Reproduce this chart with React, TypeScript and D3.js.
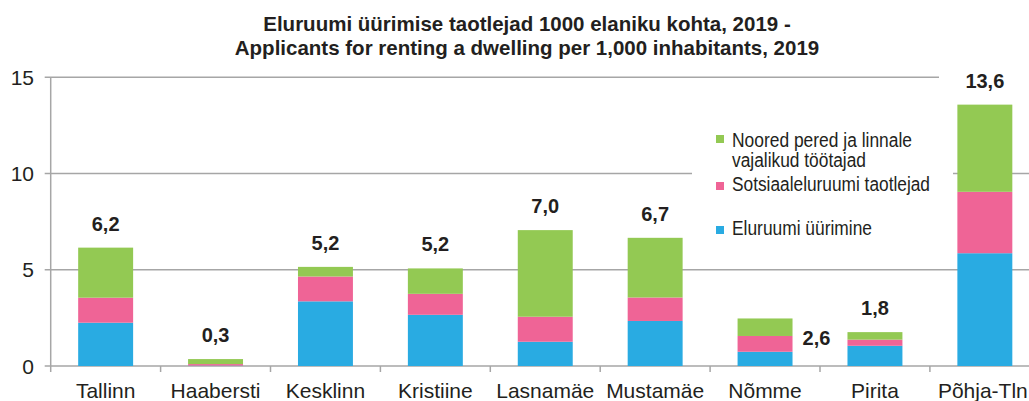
import React from "react";
import * as d3 from "d3";

const categories = ["Tallinn", "Haabersti", "Kesklinn", "Kristiine", "Lasnamäe", "Mustamäe", "Nõmme", "Pirita", "Põhja-Tln"];
const rentValues = [2.25, 0.02, 3.36, 2.66, 1.26, 2.34, 0.74, 1.05, 5.86];
const socialValues = [1.3, 0.08, 1.29, 1.09, 1.3, 1.22, 0.82, 0.32, 3.19];
const youngValues = [2.6, 0.26, 0.5, 1.32, 4.5, 3.1, 0.91, 0.39, 4.53];
const totalLabels = ["6,2", "0,3", "5,2", "5,2", "7,0", "6,7", "2,6", "1,8", "13,6"];
const yTicks = [0, 5, 10, 15];
const seriesNames = ["Eluruumi üürimine", "Sotsiaaleluruumi taotlejad", "Noored pered ja linnale vajalikud töötajad"];
const legendGreenLines = ["Noored pered ja linnale", "vajalikud töötajad"];
const titleLines = [
  "Eluruumi üürimise taotlejad 1000 elaniku kohta, 2019 -",
  "Applicants for renting a dwelling per 1,000 inhabitants, 2019",
];

const W = 1029;
const H = 401;
const COLORS = ["#29abe2", "#ef6496", "#93c953"];
const GRID = "#a6a6a6";
const FONT = "'Liberation Sans', Arial, sans-serif";

export default function App() {
  const x = d3.scaleBand<string>().domain(categories).range([50.7, 1039.8]).padding(0);
  const y = d3.scaleLinear().domain([0, 15]).range([366, 77.3]);
  const bw = x.bandwidth() * 0.5;

  const rows = categories.map((c, i) => ({ cat: c, rent: rentValues[i], social: socialValues[i], young: youngValues[i] }));
  const stack = d3.stack<any>().keys(["rent", "social", "young"])(rows);

  const x0 = 50.7;

  return (
    <svg width={W} height={H} style={{ position: "absolute", left: 0, top: 0, background: "#fff" }} fontFamily={FONT}>
      <rect x={0} y={0} width={W} height={H} fill="#fff" />
      {/* title */}
      {titleLines.map((t, i) => (
        <text key={i} x={527} y={31 + i * 24} textAnchor="middle" fontWeight="bold" fontSize={20.5} fill="#231f20">
          {t}
        </text>
      ))}
      {/* gridlines */}
      {yTicks.map((t) => (
        <line key={t} x1={x0 - 6} x2={W} y1={y(t)} y2={y(t)} stroke={GRID} strokeWidth={1.5} />
      ))}
      {/* y axis */}
      <line x1={x0} x2={x0} y1={y(15)} y2={y(0) + 6} stroke={GRID} strokeWidth={1.5} />
      {categories.map((c) => (
        <line key={c} x1={(x(c) as number) + x.bandwidth()} x2={(x(c) as number) + x.bandwidth()} y1={y(0)} y2={y(0) + 6} stroke={GRID} strokeWidth={1.5} />
      ))}
      {yTicks.map((t) => (
        <text key={t} x={34} y={y(t)} dy="0.36em" textAnchor="end" fontSize={21} fill="#231f20">
          {t}
        </text>
      ))}
      {/* legend background */}
      <rect x={692} y={118} width={261} height={130} fill="#fff" />
      {/* bars */}
      {stack.map((s, si) =>
        s.map((d, i) => (
          <rect
            key={si + "-" + i}
            x={(x(categories[i]) as number) + (x.bandwidth() - bw) / 2}
            y={y(d[1])}
            width={bw}
            height={Math.max(0, y(d[0]) - y(d[1]))}
            fill={COLORS[si]}
          />
        ))
      )}
      {/* label background for 13,6 */}
      <rect x={939} y={70} width={90} height={22} fill="#fff" />
      {/* value labels */}
      {categories.map((c, i) => {
        const top = y(rentValues[i] + socialValues[i] + youngValues[i]);
        const cx = (x(c) as number) + x.bandwidth() / 2;
        if (c === "Nõmme") {
          return (
            <text key={c} x={cx + bw / 2 + 24} y={345} textAnchor="middle" fontWeight="bold" fontSize={20} fill="#231f20">
              {totalLabels[i]}
            </text>
          );
        }
        return (
          <text key={c} x={cx} y={top - 17} textAnchor="middle" fontWeight="bold" fontSize={20} fill="#231f20">
            {totalLabels[i]}
          </text>
        );
      })}
      {/* x labels */}
      {categories.map((c, i) => (
        <text key={c} x={(x(c) as number) + x.bandwidth() / 2 - (i === categories.length - 1 ? 2 : 0)} y={398} textAnchor="middle" fontSize={21} fill="#231f20">
          {c}
        </text>
      ))}
      {/* legend */}
      <rect x={716} y={135} width={8} height={8} fill={COLORS[2]} />
      <text x={732} y={147} fontSize={19.5} fill="#231f20" textLength={180} lengthAdjust="spacingAndGlyphs">{legendGreenLines[0]}</text>
      <text x={732} y={167} fontSize={19.5} fill="#231f20" textLength={134} lengthAdjust="spacingAndGlyphs">{legendGreenLines[1]}</text>
      <rect x={716} y={182} width={8} height={8} fill={COLORS[1]} />
      <text x={732} y={191} fontSize={19.5} fill="#231f20" textLength={198} lengthAdjust="spacingAndGlyphs">{seriesNames[1]}</text>
      <rect x={716} y={226} width={8} height={8} fill={COLORS[0]} />
      <text x={732} y={235} fontSize={19.5} fill="#231f20" textLength={140} lengthAdjust="spacingAndGlyphs">{seriesNames[0]}</text>
    </svg>
  );
}
